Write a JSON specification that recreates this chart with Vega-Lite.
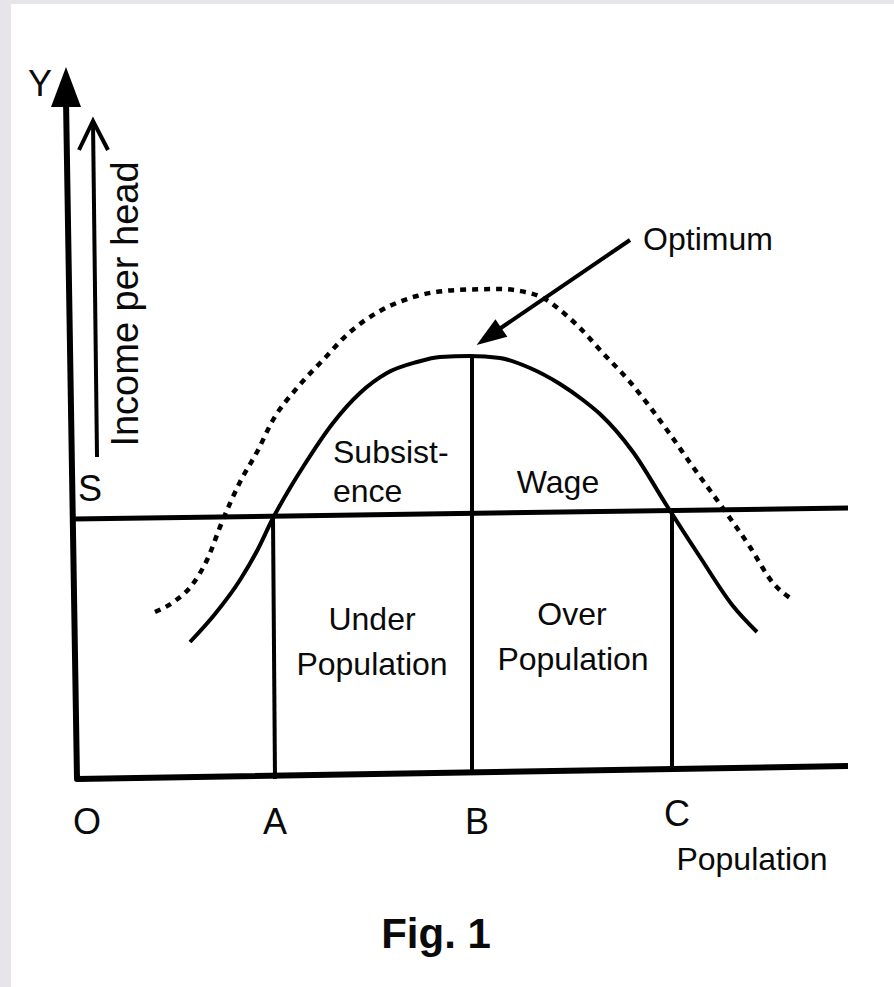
{
  "$schema": "https://vega.github.io/schema/vega-lite/v6.json",
  "width": 894,
  "height": 987,
  "autosize": {"type": "fit", "contains": "padding"},
  "padding": {"left": 11, "top": 4, "right": 0, "bottom": 0},
  "background": "#e7e4ea",
  "config": {"view": {"fill": "white", "stroke": null}, "text": {"font": "Liberation Sans", "color": "#0a0a0a"}},
  "datasets": {
    "segs": [
      {"g": "axis", "o": 1, "x": 66, "y": 100},
      {"g": "axis", "o": 2, "x": 77, "y": 779},
      {"g": "axis", "o": 3, "x": 848, "y": 766},
      {"g": "sline", "o": 1, "x": 73, "y": 519},
      {"g": "sline", "o": 2, "x": 848, "y": 508},
      {"g": "A", "o": 1, "x": 273, "y": 518},
      {"g": "A", "o": 2, "x": 275, "y": 779},
      {"g": "B", "o": 1, "x": 472, "y": 356},
      {"g": "B", "o": 2, "x": 472, "y": 773},
      {"g": "C", "o": 1, "x": 672, "y": 509},
      {"g": "C", "o": 2, "x": 672, "y": 770},
      {"g": "shaft", "o": 1, "x": 93, "y": 122},
      {"g": "shaft", "o": 2, "x": 97, "y": 457},
      {"g": "chev", "o": 1, "x": 79, "y": 150},
      {"g": "chev", "o": 2, "x": 93, "y": 121},
      {"g": "chev", "o": 3, "x": 108, "y": 150},
      {"g": "opt", "o": 1, "x": 630, "y": 240},
      {"g": "opt", "o": 2, "x": 492, "y": 334}
    ],
    "solid": [
      {"x": 190, "y": 642}, {"x": 215, "y": 614}, {"x": 240, "y": 580}, {"x": 258, "y": 549},
      {"x": 272, "y": 520}, {"x": 290, "y": 488}, {"x": 303, "y": 467}, {"x": 333, "y": 423},
      {"x": 360, "y": 393}, {"x": 387, "y": 373}, {"x": 417, "y": 362}, {"x": 440, "y": 357},
      {"x": 470, "y": 356}, {"x": 500, "y": 358}, {"x": 530, "y": 368}, {"x": 560, "y": 384},
      {"x": 583, "y": 400}, {"x": 600, "y": 414}, {"x": 633, "y": 452}, {"x": 667, "y": 506},
      {"x": 700, "y": 557}, {"x": 733, "y": 606}, {"x": 757, "y": 632}
    ],
    "dashed": [
      {"x": 155, "y": 612}, {"x": 175, "y": 601}, {"x": 192, "y": 585}, {"x": 207, "y": 560},
      {"x": 222, "y": 522}, {"x": 240, "y": 482}, {"x": 257, "y": 452}, {"x": 273, "y": 420},
      {"x": 297, "y": 388}, {"x": 323, "y": 360}, {"x": 350, "y": 332}, {"x": 380, "y": 311},
      {"x": 417, "y": 296}, {"x": 457, "y": 290}, {"x": 500, "y": 289}, {"x": 520, "y": 291},
      {"x": 545, "y": 299}, {"x": 560, "y": 310}, {"x": 580, "y": 328}, {"x": 600, "y": 350},
      {"x": 630, "y": 382}, {"x": 667, "y": 430}, {"x": 693, "y": 467}, {"x": 717, "y": 500},
      {"x": 750, "y": 547}, {"x": 773, "y": 583}, {"x": 793, "y": 600}
    ]
  },
  "encoding": {
    "x": {"field": "x", "type": "quantitative", "scale": {"domain": [11, 894], "nice": false, "zero": false}, "axis": null},
    "y": {"field": "y", "type": "quantitative", "scale": {"domain": [4, 987], "nice": false, "zero": false, "reverse": true}, "axis": null}
  },
  "layer": [
    {
      "data": {"name": "segs"},
      "transform": [{"filter": "datum.g == 'axis'"}],
      "mark": {"type": "line", "color": "#000000", "strokeWidth": 6, "strokeJoin": "round"},
      "encoding": {"detail": {"field": "g"}, "order": {"field": "o"}}
    },
    {
      "data": {"name": "segs"},
      "transform": [{"filter": "datum.g == 'sline'"}],
      "mark": {"type": "line", "color": "#000000", "strokeWidth": 5},
      "encoding": {"detail": {"field": "g"}, "order": {"field": "o"}}
    },
    {
      "data": {"name": "segs"},
      "transform": [{"filter": "datum.g == 'A' || datum.g == 'B' || datum.g == 'C' || datum.g == 'opt'"}],
      "mark": {"type": "line", "color": "#000000", "strokeWidth": 4},
      "encoding": {"detail": {"field": "g"}, "order": {"field": "o"}}
    },
    {
      "data": {"name": "segs"},
      "transform": [{"filter": "datum.g == 'shaft' || datum.g == 'chev'"}],
      "mark": {"type": "line", "color": "#000000", "strokeWidth": 4, "strokeJoin": "miter"},
      "encoding": {"detail": {"field": "g"}, "order": {"field": "o"}}
    },
    {
      "data": {"name": "solid"},
      "mark": {"type": "line", "color": "#000000", "strokeWidth": 4, "interpolate": "monotone"},
      "encoding": {}
    },
    {
      "data": {"name": "dashed"},
      "mark": {"type": "line", "color": "#000000", "strokeWidth": 4.5, "interpolate": "monotone", "strokeDash": [6, 6]},
      "encoding": {}
    },
    {
      "data": {"values": [{"x": 66, "y": 87}]},
      "mark": {"type": "point", "shape": "M0,-1L0.75,1L-0.75,1Z", "size": 1600, "filled": true, "color": "#000000", "opacity": 1}
    },
    {
      "data": {"values": [{"x": 489, "y": 336.5}]},
      "mark": {"type": "point", "shape": "M0,-1L0.7,1L-0.7,1Z", "size": 900, "angle": 235.5, "filled": true, "color": "#000000", "opacity": 1}
    },
    {
      "data": {"values": [
        {"t": "Under", "x": 372, "y": 620},
        {"t": "Population", "x": 372, "y": 665},
        {"t": "Over", "x": 572, "y": 615},
        {"t": "Population", "x": 573, "y": 660},
        {"t": "Wage", "x": 558, "y": 483},
        {"t": "Optimum", "x": 708, "y": 240},
        {"t": "Population", "x": 752, "y": 860}
      ]},
      "mark": {"type": "text", "fontSize": 32, "align": "center", "baseline": "middle"},
      "encoding": {"text": {"field": "t"}}
    },
    {
      "data": {"values": [
        {"t": "Subsist-", "x": 333, "y": 453},
        {"t": "ence", "x": 333, "y": 492}
      ]},
      "mark": {"type": "text", "fontSize": 32, "align": "left", "baseline": "middle"},
      "encoding": {"text": {"field": "t"}}
    },
    {
      "data": {"values": [
        {"t": "Y", "x": 40, "y": 85},
        {"t": "S", "x": 90, "y": 490},
        {"t": "O", "x": 87, "y": 823},
        {"t": "A", "x": 275, "y": 823},
        {"t": "B", "x": 477, "y": 823},
        {"t": "C", "x": 677, "y": 815}
      ]},
      "mark": {"type": "text", "fontSize": 36, "align": "center", "baseline": "middle"},
      "encoding": {"text": {"field": "t"}}
    },
    {
      "data": {"values": [{"t": "Income per head", "x": 127, "y": 304}]},
      "mark": {"type": "text", "fontSize": 38, "angle": 270, "align": "center", "baseline": "middle"},
      "encoding": {"text": {"field": "t"}}
    },
    {
      "data": {"values": [{"t": "Fig. 1", "x": 436, "y": 935}]},
      "mark": {"type": "text", "fontSize": 42, "fontWeight": "bold", "align": "center", "baseline": "middle"},
      "encoding": {"text": {"field": "t"}}
    }
  ]
}
